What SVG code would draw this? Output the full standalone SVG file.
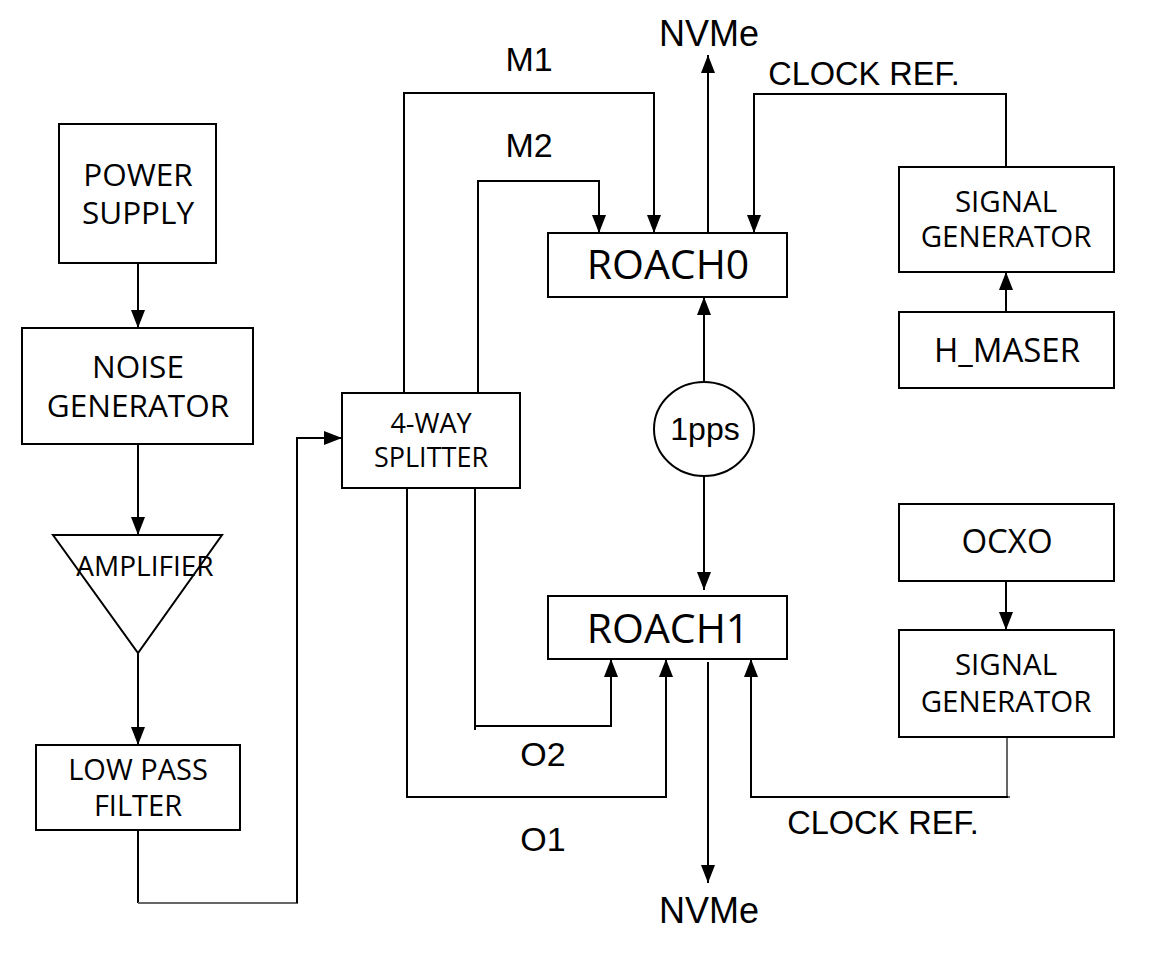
<svg xmlns="http://www.w3.org/2000/svg" width="1164" height="957" viewBox="0 0 1164 957">
<defs>
<marker id="arr" markerUnits="userSpaceOnUse" markerWidth="18" markerHeight="14" refX="18" refY="7" orient="auto">
<path d="M0,0 L18,7 L0,14 z" fill="#000"/>
</marker>
<style>
.box{fill:#fff;stroke:#000;stroke-width:2}
.t{font-family:"Open Sans","Noto Sans",sans-serif;font-weight:500;fill:#000;text-anchor:middle}
.l{font-family:"Liberation Sans",Arial,sans-serif;fill:#000;text-anchor:middle}
.c{fill:none;stroke:#000;stroke-width:2}
.g{fill:none;stroke:#666;stroke-width:2}
.a{marker-end:url(#arr)}
</style>
</defs>
<rect width="1164" height="957" fill="#fff"/>
<g id="connectors">
<path class="c a" d="M138,263 V328"/>
<path class="c a" d="M138,444 V535"/>
<path class="c a" d="M138,653 V745"/>
<path class="c" d="M138,830 V903"/>
<path class="g" d="M138,903 H298"/>
<path class="c a" d="M297,903 V438 H342"/>
<path class="c a" d="M404,393 V93 H654 V233"/>
<path class="c a" d="M478,393 V181 H599 V233"/>
<path class="c a" d="M708,233 V55"/>
<path class="c a" d="M1006,167 V94 H754 V233"/>
<path class="c a" d="M1006,312 V272"/>
<path class="c a" d="M704,382 V297"/>
<path class="c a" d="M704,477 V590"/>
<path class="c" d="M475,488 V730"/>
<path class="c a" d="M475,726 H611 V659"/>
<path class="c a" d="M407,488 V797 H666 V659"/>
<path class="c a" d="M708,662 V883"/>
<path class="g" d="M1007,737 V797 H1010"/>
<path class="c a" d="M1008,797 H751 V659"/>
<path class="c a" d="M1006,581 V630"/>
</g>
<g id="power-supply">
<rect class="box" x="59" y="124" width="157" height="139"/>
<text class="t" x="138" y="186" font-size="31.5">POWER</text>
<text class="t" x="138" y="224" font-size="31.5">SUPPLY</text>
</g>
<g id="noise-generator">
<rect class="box" x="22" y="328" width="231" height="116"/>
<text class="t" x="138" y="378" font-size="31.5">NOISE</text>
<text class="t" x="138" y="417" font-size="31.5">GENERATOR</text>
</g>
<g id="amplifier">
<path class="box" d="M53,535 H222 L138,653 Z"/>
<text class="t" x="145" y="576" font-size="28">AMPLIFIER</text>
</g>
<g id="low-pass-filter">
<rect class="box" x="36" y="745" width="204" height="85"/>
<text class="t" x="138" y="780" font-size="29">LOW PASS</text>
<text class="t" x="138" y="816" font-size="29">FILTER</text>
</g>
<g id="splitter">
<rect class="box" x="342" y="393" width="178" height="95"/>
<text class="t" x="431" y="433" font-size="27">4-WAY</text>
<text class="t" x="431" y="467" font-size="27">SPLITTER</text>
</g>
<g id="roach0">
<rect class="box" x="548" y="233" width="239" height="64"/>
<text class="t" x="668" y="279" font-size="41">ROACH0</text>
</g>
<g id="roach1">
<rect class="box" x="548" y="596" width="239" height="63"/>
<text class="t" x="668" y="643" font-size="41">ROACH1</text>
</g>
<g id="pps">
<ellipse cx="704" cy="429" rx="50" ry="47" fill="#fff" stroke="#000" stroke-width="2"/>
<text class="l" x="705" y="440" font-size="32">1pps</text>
</g>
<g id="signal-generator-1">
<rect class="box" x="899" y="167" width="215" height="105"/>
<text class="t" x="1006" y="212" font-size="29.5">SIGNAL</text>
<text class="t" x="1006" y="247" font-size="29.5">GENERATOR</text>
</g>
<g id="h-maser">
<rect class="box" x="899" y="312" width="215" height="76"/>
<text class="t" x="1007" y="362" font-size="33">H_MASER</text>
</g>
<g id="ocxo">
<rect class="box" x="899" y="504" width="215" height="77"/>
<text class="t" x="1007" y="553" font-size="33">OCXO</text>
</g>
<g id="signal-generator-2">
<rect class="box" x="899" y="630" width="215" height="107"/>
<text class="t" x="1006" y="675" font-size="29.5">SIGNAL</text>
<text class="t" x="1006" y="712" font-size="29.5">GENERATOR</text>
</g>
<g id="labels">
<text class="l" x="529" y="71" font-size="34">M1</text>
<text class="l" x="529" y="157" font-size="34">M2</text>
<text class="l" x="709" y="46" font-size="36">NVMe</text>
<text class="l" x="709" y="923" font-size="36">NVMe</text>
<text class="l" x="864" y="85" font-size="32.5">CLOCK REF.</text>
<text class="l" x="883" y="834" font-size="32.5">CLOCK REF.</text>
<text class="l" x="543" y="766" font-size="34">O2</text>
<text class="l" x="543" y="851" font-size="34">O1</text>
</g>
</svg>
